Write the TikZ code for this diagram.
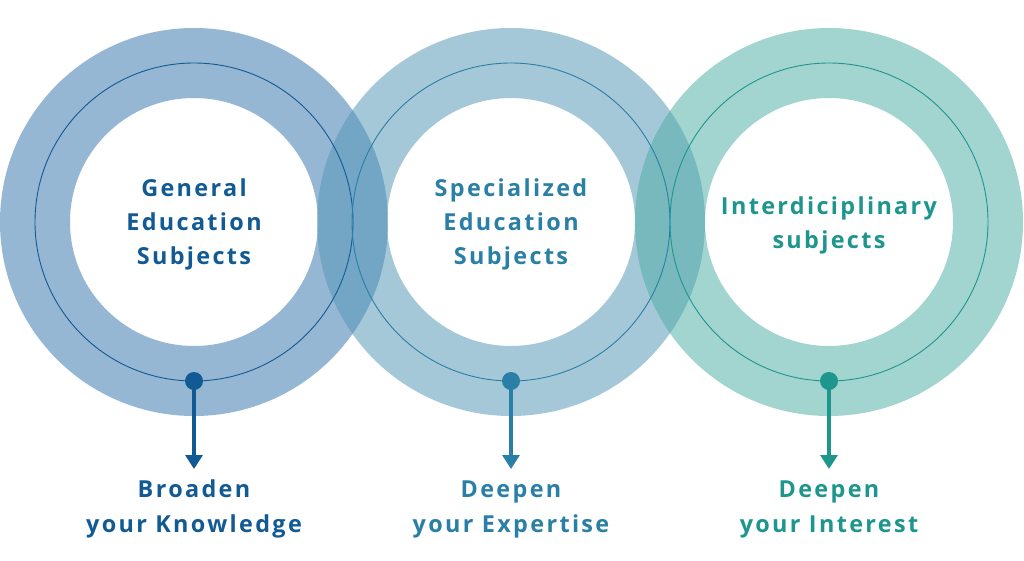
\documentclass[tikz,border=0pt]{standalone}
\usepackage{fontspec}
\setmainfont{Open Sans}[LetterSpace=10]
\usetikzlibrary{arrows.meta}
\definecolor{cA}{HTML}{125A93}
\definecolor{cB}{HTML}{2A7FA6}
\definecolor{cC}{HTML}{1E968D}
\definecolor{fA}{HTML}{3676AD}
\definecolor{fB}{HTML}{5497B8}
\definecolor{fC}{HTML}{4DADA5}
\tikzset{
  ring/.style={even odd rule, fill opacity=0.52, draw=none},
  thin/.style={line width=0.9pt},
  title/.style={align=center, font=\bfseries\fontsize{23.4}{34}\selectfont},
  lab/.style={align=center, font=\bfseries\fontsize{23.4}{35}\selectfont},
  arr/.style={line width=3.2pt, -{Triangle[width=17pt,length=14pt]}}
}
\begin{document}
\begin{tikzpicture}[x=1pt,y=-1pt]
\useasboundingbox (0,0) rectangle (1024,560);
\fill[white] (0,0) rectangle (1024,560);
\foreach \cx/\f in {194/fA,511/fB,829/fC}{
  \fill[ring, fill=\f] (\cx,222) circle (194) (\cx,222) circle (124);
}
\draw[thin, cA] (194,222) circle (159);
\draw[thin, cB] (511,222) circle (159);
\draw[thin, cC] (829,222) circle (159);
\fill[cA] (194,381) circle (9) coordinate (dA);
\fill[cB] (511,381) circle (9) coordinate (dB);
\fill[cC] (829,381) circle (9) coordinate (dC);
\node[title, text=cA] (tA) at (194,224.5) {General\\Education\\Subjects};
\node[title, text=cB] (tB) at (511,224.5) {Specialized\\Education\\Subjects};
\node[title, text=cC] (tC) at (829,225.5) {Interdiciplinary\\subjects};
\node[lab, text=cA] (lA) at (194,509) {Broaden\\your Knowledge};
\node[lab, text=cB] (lB) at (511,509) {Deepen\\your Expertise};
\node[lab, text=cC] (lC) at (829,509) {Deepen\\your Interest};
\coordinate (eA) at (194,469);
\coordinate (eB) at (511,469);
\coordinate (eC) at (829,469);
\draw[arr, cA] (dA) -- (eA);
\draw[arr, cB] (dB) -- (eB);
\draw[arr, cC] (dC) -- (eC);
\end{tikzpicture}
\end{document}
